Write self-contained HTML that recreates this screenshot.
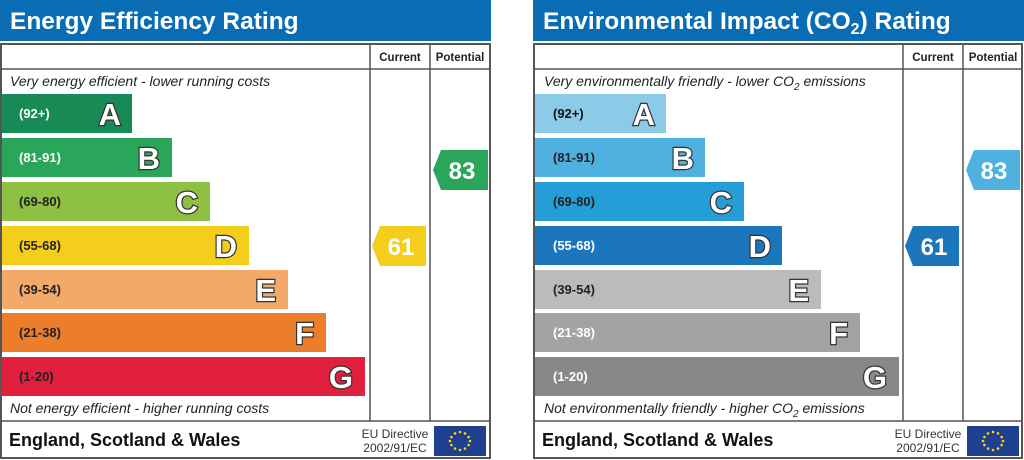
<!DOCTYPE html>
<html><head><meta charset="utf-8"><style>
html,body{margin:0;padding:0;background:#fff;}
svg{display:block;font-family:"Liberation Sans",Arial,sans-serif;}
.let{font-weight:bold;font-size:31px;fill:#fff;stroke:#333;stroke-width:2.4px;paint-order:stroke;}
.rng{font-size:13px;font-weight:bold;}
.it{font-style:italic;font-size:14px;fill:#222;}
.hd{font-size:11.5px;font-weight:bold;fill:#222;}
.num{font-size:24px;font-weight:bold;fill:#fff;}
</style></head><body>
<svg width="1024" height="460" viewBox="0 0 1024 460">
<defs>
<g id="eu">
<rect x="0" y="0" width="52" height="30" fill="#1f3f8f"/>
<g fill="#ffd800">
<circle cx="26" cy="6" r="1.3"/><circle cx="31" cy="7.4" r="1.3"/><circle cx="34.6" cy="11" r="1.3"/><circle cx="36" cy="15" r="1.3"/><circle cx="34.6" cy="19" r="1.3"/><circle cx="31" cy="22.6" r="1.3"/><circle cx="26" cy="24" r="1.3"/><circle cx="21" cy="22.6" r="1.3"/><circle cx="17.4" cy="19" r="1.3"/><circle cx="16" cy="15" r="1.3"/><circle cx="17.4" cy="11" r="1.3"/><circle cx="21" cy="7.4" r="1.3"/>
</g></g>
</defs>

<!-- LEFT PANEL -->
<rect x="0" y="0" width="491" height="41" fill="#0a6db3"/>
<text x="10" y="29" font-size="24.5" font-weight="bold" fill="#fff">Energy Efficiency Rating</text>
<rect x="1" y="44" width="489" height="414" fill="#fff" stroke="#555" stroke-width="2"/>
<line x1="1" y1="69" x2="490" y2="69" stroke="#555" stroke-width="1.5"/>
<line x1="370" y1="44" x2="370" y2="421" stroke="#555" stroke-width="1.5"/>
<line x1="430" y1="44" x2="430" y2="421" stroke="#555" stroke-width="1.5"/>
<line x1="1" y1="421" x2="490" y2="421" stroke="#555" stroke-width="1.5"/>
<text x="400" y="61" class="hd" text-anchor="middle">Current</text>
<text x="460" y="61" class="hd" text-anchor="middle">Potential</text>
<text x="10" y="86" class="it">Very energy efficient - lower running costs</text>
<text x="10" y="413" class="it">Not energy efficient - higher running costs</text>

<rect x="2" y="94" width="130" height="39" fill="#178a55"/>
<rect x="2" y="138" width="170" height="39" fill="#2aa65a"/>
<rect x="2" y="182" width="208" height="39" fill="#8dc043"/>
<rect x="2" y="226" width="247" height="39" fill="#f5cd1d"/>
<rect x="2" y="270" width="286" height="39" fill="#f2a96a"/>
<rect x="2" y="313" width="324" height="39" fill="#ec7d2a"/>
<rect x="2" y="357" width="363" height="39" fill="#e0203d"/>
<g class="rng">
<text x="19" y="118" fill="#fff">(92+)</text>
<text x="19" y="162" fill="#fff">(81-91)</text>
<text x="19" y="206" fill="#222">(69-80)</text>
<text x="19" y="250" fill="#222">(55-68)</text>
<text x="19" y="294" fill="#222">(39-54)</text>
<text x="19" y="337" fill="#222">(21-38)</text>
<text x="19" y="381" fill="#222">(1-20)</text>
</g>
<g class="let" text-anchor="end">
<text x="121" y="125">A</text>
<text x="160" y="169">B</text>
<text x="198" y="213">C</text>
<text x="237" y="257">D</text>
<text x="276" y="301">E</text>
<text x="314" y="344">F</text>
<text x="353" y="388">G</text>
</g>
<polygon points="433,170 441,150 488,150 488,190 441,190" fill="#2aa65a"/>
<text x="462" y="179" class="num" text-anchor="middle">83</text>
<polygon points="372,246 380,226 426,226 426,266 380,266" fill="#f5cd1d"/>
<text x="401" y="255" class="num" text-anchor="middle">61</text>
<text x="9" y="446" font-size="18" font-weight="bold" fill="#111">England, Scotland &amp; Wales</text>
<text x="395" y="438" font-size="12" fill="#333" text-anchor="middle">EU Directive</text>
<text x="395" y="452" font-size="12" fill="#333" text-anchor="middle">2002/91/EC</text>
<use href="#eu" x="434" y="426"/>

<!-- RIGHT PANEL -->
<rect x="533" y="0" width="491" height="41" fill="#0a6db3"/>
<text x="543" y="29" font-size="24.5" font-weight="bold" fill="#fff">Environmental Impact (CO<tspan font-size="16" dy="5">2</tspan><tspan dy="-5">) Rating</tspan></text>
<rect x="534" y="44" width="488" height="414" fill="#fff" stroke="#555" stroke-width="2"/>
<line x1="534" y1="69" x2="1022" y2="69" stroke="#555" stroke-width="1.5"/>
<line x1="903" y1="44" x2="903" y2="421" stroke="#555" stroke-width="1.5"/>
<line x1="963" y1="44" x2="963" y2="421" stroke="#555" stroke-width="1.5"/>
<line x1="534" y1="421" x2="1022" y2="421" stroke="#555" stroke-width="1.5"/>
<text x="933" y="61" class="hd" text-anchor="middle">Current</text>
<text x="993" y="61" class="hd" text-anchor="middle">Potential</text>
<text x="544" y="86" class="it">Very environmentally friendly - lower CO<tspan font-size="10" dy="4">2</tspan><tspan dy="-4"> emissions</tspan></text>
<text x="544" y="413" class="it">Not environmentally friendly - higher CO<tspan font-size="10" dy="4">2</tspan><tspan dy="-4"> emissions</tspan></text>

<rect x="535" y="94" width="131" height="39" fill="#8ccbe8"/>
<rect x="535" y="138" width="170" height="39" fill="#4fb1e0"/>
<rect x="535" y="182" width="209" height="39" fill="#259dd6"/>
<rect x="535" y="226" width="247" height="39" fill="#1b76bb"/>
<rect x="535" y="270" width="286" height="39" fill="#bbbbbb"/>
<rect x="535" y="313" width="325" height="39" fill="#a3a3a3"/>
<rect x="535" y="357" width="364" height="39" fill="#888888"/>
<g class="rng">
<text x="553" y="118" fill="#111">(92+)</text>
<text x="553" y="162" fill="#222">(81-91)</text>
<text x="553" y="206" fill="#222">(69-80)</text>
<text x="553" y="250" fill="#fff">(55-68)</text>
<text x="553" y="294" fill="#222">(39-54)</text>
<text x="553" y="337" fill="#fff">(21-38)</text>
<text x="553" y="381" fill="#fff">(1-20)</text>
</g>
<g class="let" text-anchor="end">
<text x="655" y="125">A</text>
<text x="694" y="169">B</text>
<text x="732" y="213">C</text>
<text x="771" y="257">D</text>
<text x="809" y="301">E</text>
<text x="848" y="344">F</text>
<text x="887" y="388">G</text>
</g>
<polygon points="966,170 974,150 1020,150 1020,190 974,190" fill="#4fb1e0"/>
<text x="994" y="179" class="num" text-anchor="middle">83</text>
<polygon points="905,246 913,226 959,226 959,266 913,266" fill="#1b76bb"/>
<text x="934" y="255" class="num" text-anchor="middle">61</text>
<text x="542" y="446" font-size="18" font-weight="bold" fill="#111">England, Scotland &amp; Wales</text>
<text x="928" y="438" font-size="12" fill="#333" text-anchor="middle">EU Directive</text>
<text x="928" y="452" font-size="12" fill="#333" text-anchor="middle">2002/91/EC</text>
<use href="#eu" x="967" y="426"/>
</svg>
</body></html>
